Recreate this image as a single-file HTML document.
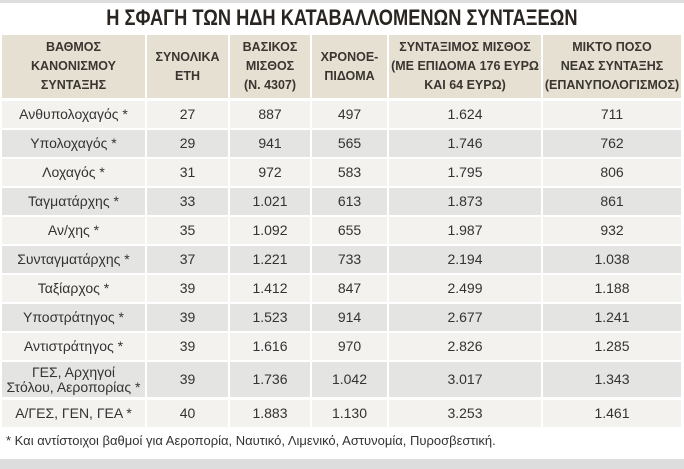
<!DOCTYPE html><html><head><meta charset="utf-8"><style>
body{margin:0;width:684px;height:469px;background:#fff;position:relative;overflow:hidden;font-family:"Liberation Sans Narrow","Liberation Sans",sans-serif;color:#333}
.c{position:absolute;display:flex;align-items:center;justify-content:center;text-align:center;font-size:14px;line-height:15px}
.h{background:#e6e0d3;font-weight:bold;font-size:12.5px;line-height:19px;color:#3a3530}
.a{background:#f3f2ee}.b{background:#e4e4e3}
.t{position:absolute;left:0;width:684px;top:5px;text-align:center;font-weight:bold;font-size:22px;color:#2a2520}
</style></head><body>
<div style="position:absolute;left:0;top:0;width:684px;height:3px;background:#ddd"></div>
<div class="t"><span style="display:inline-block;transform:scaleX(0.83)">Η ΣΦΑΓΗ ΤΩΝ ΗΔΗ ΚΑΤΑΒΑΛΛΟΜΕΝΩΝ ΣΥΝΤΑΞΕΩΝ</span></div>
<div id="g"></div>
<div style="position:absolute;left:6px;top:433px;font-size:13px;color:#333">* Και αντίστοιχοι βαθμοί για Αεροπορία, Ναυτικό, Λιμενικό, Αστυνομία, Πυροσβεστική.</div>
<div style="position:absolute;left:0;top:459px;width:684px;height:10px;background:#ddd"></div>
<script>
var X=[[2,145],[147,228],[230,310],[312,387],[389,541],[543,681]];
var H=["ΒΑΘΜΟΣ<br>ΚΑΝΟΝΙΣΜΟΥ<br>ΣΥΝΤΑΞΗΣ","ΣΥΝΟΛΙΚΑ<br>ΕΤΗ","ΒΑΣΙΚΟΣ<br>ΜΙΣΘΟΣ<br>(Ν. 4307)","ΧΡΟΝΟΕ-<br>ΠΙΔΟΜΑ","ΣΥΝΤΑΞΙΜΟΣ ΜΙΣΘΟΣ<br>(ΜΕ ΕΠΙΔΟΜΑ 176 ΕΥΡΩ<br>ΚΑΙ 64 ΕΥΡΩ)","ΜΙΚΤΟ ΠΟΣΟ<br>ΝΕΑΣ ΣΥΝΤΑΞΗΣ<br>(ΕΠΑΝΥΠΟΛΟΓΙΣΜΟΣ)"];
var R=[["Ανθυπολοχαγός *","27","887","497","1.624","711"],["Υπολοχαγός *","29","941","565","1.746","762"],["Λοχαγός *","31","972","583","1.795","806"],["Ταγματάρχης *","33","1.021","613","1.873","861"],["Αν/χης *","35","1.092","655","1.987","932"],["Συνταγματάρχης *","37","1.221","733","2.194","1.038"],["Ταξίαρχος *","39","1.412","847","2.499","1.188"],["Υποστράτηγος *","39","1.523","914","2.677","1.241"],["Αντιστράτηγος *","39","1.616","970","2.826","1.285"],["ΓΕΣ, Αρχηγοί<br>Στόλου, Αεροπορίας *","39","1.736","1.042","3.017","1.343"],["Α/ΓΕΣ, ΓΕΝ, ΓΕΑ *","40","1.883","1.130","3.253","1.461"]];
var s="";
for(var j=0;j<6;j++)s+='<div class="c h" style="left:'+X[j][0]+'px;width:'+(X[j][1]-X[j][0])+'px;top:35px;height:63px">'+H[j]+'</div>';
for(var i=0;i<11;i++){var t,h;if(i<9){t=101+29*i;h=27}else if(i==9){t=362;h=35}else{t=400;h=27}
for(var j=0;j<6;j++)s+='<div class="c '+(i%2?'b':'a')+'" style="left:'+X[j][0]+'px;width:'+(X[j][1]-X[j][0])+'px;top:'+t+'px;height:'+h+'px">'+R[i][j]+'</div>';}
document.getElementById("g").innerHTML=s;
</script></body></html>
